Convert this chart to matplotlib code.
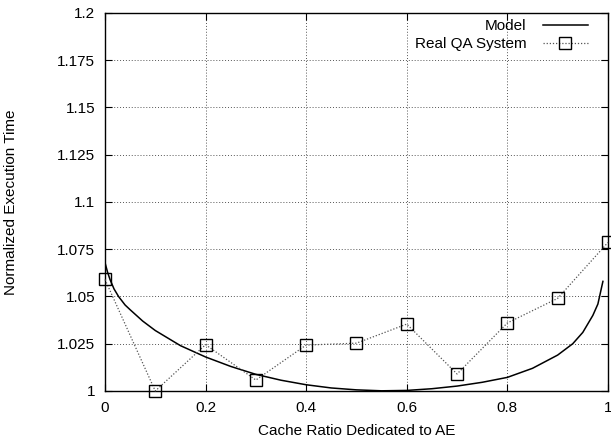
import numpy as np
import matplotlib
matplotlib.use("Agg")
import matplotlib.pyplot as plt

plt.rcParams['font.family'] = ['Liberation Sans', 'DejaVu Sans']

# measured system
qa_ratio = [0.0, 0.1, 0.2, 0.3, 0.4, 0.5, 0.6, 0.7, 0.8, 0.9, 1.0]
qa_time = [1.059, 1.000, 1.0245, 1.0058, 1.0243, 1.0253, 1.0354, 1.009, 1.036, 1.049, 1.0786]

# model curve
model_ratio = [0.0, 0.005, 0.01, 0.018, 0.027, 0.04, 0.05, 0.075, 0.1, 0.125, 0.15, 0.2, 0.25, 0.3, 0.35,
               0.4, 0.45, 0.5, 0.55, 0.6, 0.65, 0.7, 0.75, 0.8, 0.85, 0.9,
               0.93, 0.95, 0.97, 0.98, 0.985, 0.99]
model_time = [1.068, 1.063, 1.059, 1.054, 1.050, 1.0455, 1.043, 1.037, 1.032, 1.028, 1.024, 1.018, 1.013, 1.0088, 1.0057,
              1.0033, 1.0016, 1.0006, 1.0001, 1.0003, 1.0012, 1.0026, 1.0046, 1.0072, 1.012, 1.019,
              1.025, 1.031, 1.040, 1.046, 1.052, 1.058]

xticks = [0, 0.2, 0.4, 0.6, 0.8, 1]
xtick_labels = ['0', '0.2', '0.4', '0.6', '0.8', '1']
yticks = [1, 1.025, 1.05, 1.075, 1.1, 1.125, 1.15, 1.175, 1.2]
ytick_labels = ['1', '1.025', '1.05', '1.075', '1.1', '1.125', '1.15', '1.175', '1.2']

fig = plt.figure(figsize=(6.11, 4.43), dpi=100)
ax = fig.add_axes([0.1718, 0.1174, 0.8232, 0.8533])

ax.plot(model_ratio, model_time, color='black', lw=1.1, label='Model', zorder=3)
ax.plot(qa_ratio, qa_time, color='#555555', lw=0.9, ls=(0, (1, 1.5)),
        marker='s', markersize=8, markerfacecolor='none', markeredgecolor='black',
        markeredgewidth=1.0, label='Real QA System', zorder=4, clip_on=False)

ax.set_xlim(0, 1)
ax.set_ylim(1, 1.2)
ax.set_xticks(xticks)
ax.set_xticklabels(xtick_labels)
ax.set_yticks(yticks)
ax.set_yticklabels(ytick_labels)
ax.tick_params(direction='in', top=True, right=True, length=5, labelsize=11, pad=7)
ax.grid(True, color='#555555', ls=(0, (1, 2)), lw=0.7)
for s in ax.spines.values():
    s.set_linewidth(1.0)

ax.set_xlabel('Cache Ratio Dedicated to AE', fontsize=11)
ax.xaxis.set_label_coords(0.5, -0.088)
ax.set_ylabel('Normalized Execution Time', fontsize=11)
ax.yaxis.set_label_coords(-0.173, 0.5)

leg = ax.legend(loc='upper right', bbox_to_anchor=(0.96, 0.983), frameon=False,
                markerfirst=False, fontsize=11, handlelength=2.95, borderaxespad=0,
                borderpad=0, labelspacing=0.25, handletextpad=1.05)

fig.savefig('out.png', dpi=100)
